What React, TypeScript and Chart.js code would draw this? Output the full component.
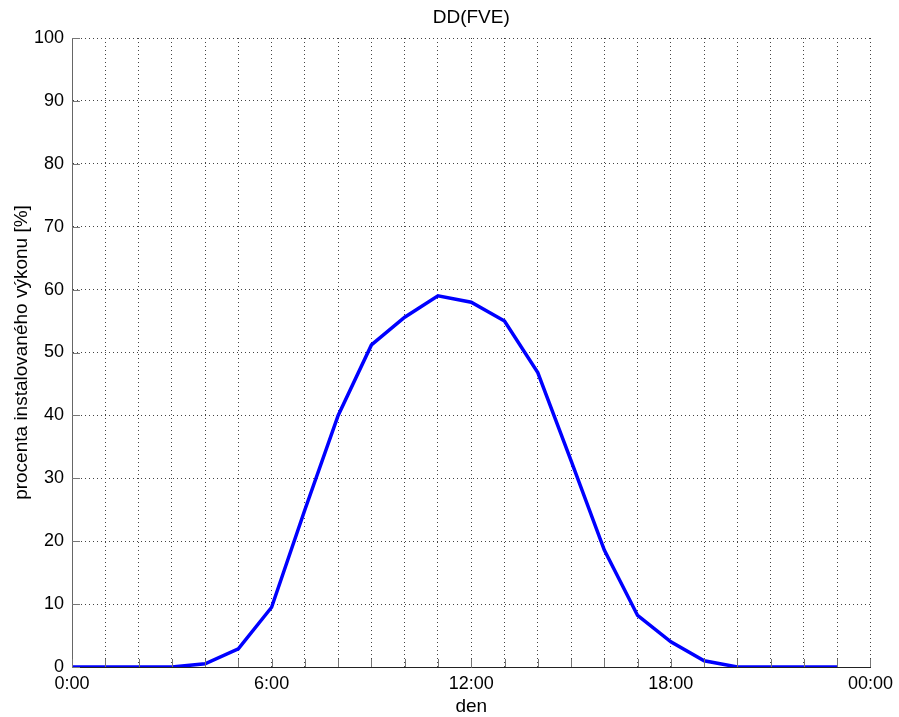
import React, { useEffect, useRef } from "react";
import { Chart, registerables } from "chart.js";

Chart.register(...registerables);

const TITLE = "DD(FVE)";
const X_LABEL = "den";
const Y_LABEL = "procenta instalovaného výkonu [%]";

const hours = [0, 1, 2, 3, 4, 5, 6, 7, 8, 9, 10, 11, 12, 13, 14, 15, 16, 17, 18, 19, 20, 21, 22, 23];
const values = [0, 0, 0, 0, 0.5, 2.9, 9.5, 25, 40, 51.2, 55.6, 59, 58, 55, 46.8, 32.8, 18.6, 8.2, 4, 1, 0, 0, 0, 0];

const xMin = 0;
const xMax = 24;
const yMin = 0;
const yMax = 100;
const yStep = 10;

const xTickLabel = (v: number): string => {
  if (v % 6 !== 0) return "";
  if (v === 24) return "00:00";
  return `${v}:00`;
};

const FONT = "'Liberation Sans', Arial, Helvetica, sans-serif";

const inwardTicks = {
  id: "inwardTicks",
  afterDraw(chart: any) {
    const { ctx, chartArea, scales } = chart;
    const xs = scales.x;
    const ys = scales.y;
    const len = 8;
    ctx.save();
    ctx.strokeStyle = "#777";
    ctx.lineWidth = 1;
    ctx.beginPath();
    for (let h = xMin; h <= xMax; h += 1) {
      const px = Math.round(xs.getPixelForValue(h)) + 0.5;
      ctx.moveTo(px, chartArea.bottom);
      ctx.lineTo(px, chartArea.bottom - len);
    }
    for (let v = yMin; v <= yMax; v += yStep) {
      const py = Math.round(ys.getPixelForValue(v)) + 0.5;
      ctx.moveTo(chartArea.left, py);
      ctx.lineTo(chartArea.left + len, py);
    }
    ctx.stroke();
    ctx.restore();
  },
};

const plotTitle = {
  id: "plotTitle",
  afterDraw(chart: any) {
    const { ctx, chartArea } = chart;
    ctx.save();
    ctx.fillStyle = "#000";
    ctx.font = `normal 19px ${FONT}`;
    ctx.textAlign = "center";
    ctx.textBaseline = "middle";
    ctx.fillText(TITLE, (chartArea.left + chartArea.right) / 2, 18);
    ctx.restore();
  },
};

export default function App() {
  const ref = useRef<HTMLCanvasElement | null>(null);

  useEffect(() => {
    if (!ref.current) return;
    const chart = new Chart(ref.current, {
      type: "line",
      data: {
        datasets: [
          {
            data: hours.map((h, i) => ({ x: h, y: values[i] })),
            borderColor: "#0000ff",
            borderWidth: 3.5,
            pointRadius: 0,
            tension: 0,
            fill: false,
          },
        ],
      },
      options: {
        animation: false,
        responsive: false,
        events: [],
        layout: { padding: { left: 0, right: 27, top: 38, bottom: 0 } },
        plugins: {
          legend: { display: false },
          tooltip: { enabled: false },
          title: { display: false },
        },
        scales: {
          x: {
            type: "linear",
            min: xMin,
            max: xMax,
            afterFit: (s: any) => {
              s.height = 50;
            },
            ticks: {
              stepSize: 1,
              autoSkip: false,
              maxRotation: 0,
              minRotation: 0,
              padding: 6,
              color: "#000",
              font: { family: FONT, size: 18 },
              callback: (v: any) => xTickLabel(Number(v)),
            },
            grid: {
              color: "#444",
              lineWidth: 1,
              drawTicks: false,
            },
            border: { display: true, color: "#222", width: 1, dash: [1, 3] },
            title: {
              display: true,
              text: X_LABEL,
              color: "#000",
              font: { family: FONT, size: 19, lineHeight: "20px" },
              padding: { top: 0, bottom: 0 },
            },
          },
          y: {
            type: "linear",
            min: yMin,
            max: yMax,
            afterFit: (s: any) => {
              s.width = 72;
            },
            ticks: {
              stepSize: yStep,
              padding: 8,
              color: "#000",
              font: { family: FONT, size: 18 },
            },
            grid: {
              color: "#444",
              lineWidth: 1,
              drawTicks: false,
            },
            border: { display: true, color: "#666", width: 1, dash: [1, 3] },
            title: {
              display: true,
              text: Y_LABEL,
              color: "#000",
              font: { family: FONT, size: 19, lineHeight: "20px" },
              padding: { top: 11.5, bottom: 0 },
            },
          },
        },
      },
      plugins: [inwardTicks, plotTitle],
    } as any);
    return () => chart.destroy();
  }, []);

  return (
    <div style={{ position: "absolute", left: 0, top: 0, width: 899, height: 717, background: "#fff" }}>
      <canvas ref={ref} width={899} height={717} />
    </div>
  );
}
